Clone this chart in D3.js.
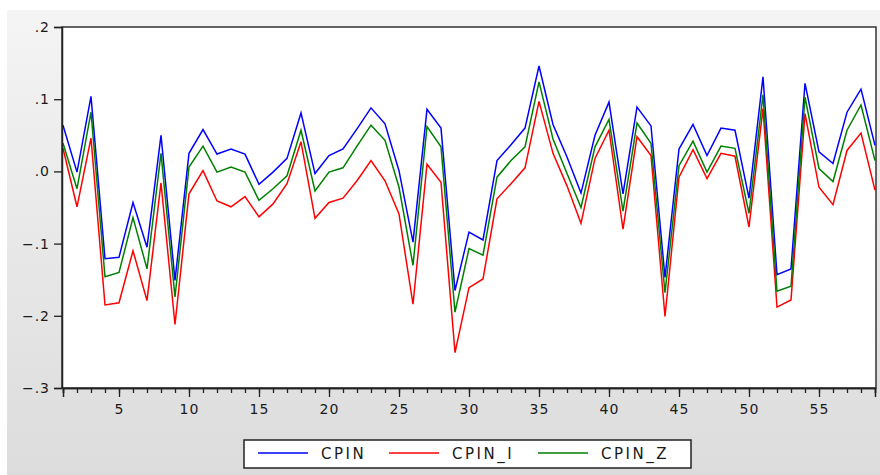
<!DOCTYPE html>
<html>
<head>
<meta charset="utf-8">
<script src="https://cdn.jsdelivr.net/npm/d3@7"></script>
<style>
body { margin: 0; background: #fff; }
text { font-family: "DejaVu Sans", sans-serif; fill: #1a1a1a; }
</style>
</head>
<body>
<div id="chart"></div>
<script>
let obs = d3.range(1, 60)

let cpin = [0.064, -0.001, 0.104, -0.121, -0.119, -0.043, -0.105, 0.050, -0.151, 0.025,
    0.058, 0.024, 0.031, 0.024, -0.018, -0.001, 0.018, 0.081, -0.003, 0.022,
    0.031, 0.059, 0.088, 0.066, 0.001, -0.098, 0.086, 0.060, -0.165, -0.084,
    -0.095, 0.015, 0.037, 0.060, 0.146, 0.065, 0.020, -0.030, 0.050, 0.096,
    -0.031, 0.089, 0.063, -0.147, 0.031, 0.065, 0.022, 0.060, 0.057, -0.037,
    0.131, -0.143, -0.135, 0.122, 0.027, 0.011, 0.082, 0.114, 0.036]

let cpinI = [0.032, -0.049, 0.046, -0.185, -0.182, -0.110, -0.179, -0.016, -0.212, -0.031,
    0.001, -0.041, -0.049, -0.035, -0.063, -0.045, -0.017, 0.041, -0.065, -0.043,
    -0.037, -0.013, 0.015, -0.013, -0.059, -0.184, 0.010, -0.015, -0.251, -0.161,
    -0.149, -0.038, -0.017, 0.005, 0.097, 0.025, -0.020, -0.072, 0.018, 0.057,
    -0.080, 0.048, 0.022, -0.201, -0.008, 0.030, -0.010, 0.025, 0.021, -0.077,
    0.087, -0.188, -0.178, 0.080, -0.022, -0.046, 0.029, 0.053, -0.026]

let cpinZ = [0.039, -0.024, 0.082, -0.146, -0.140, -0.064, -0.135, 0.025, -0.174, 0.006,
    0.035, -0.001, 0.006, -0.001, -0.040, -0.024, -0.006, 0.057, -0.027, -0.001,
    0.005, 0.035, 0.064, 0.043, -0.022, -0.130, 0.062, 0.034, -0.195, -0.107,
    -0.116, -0.008, 0.015, 0.034, 0.124, 0.045, -0.003, -0.050, 0.034, 0.072,
    -0.055, 0.067, 0.039, -0.168, 0.008, 0.042, -0.001, 0.035, 0.032, -0.058,
    0.106, -0.166, -0.159, 0.103, 0.004, -0.014, 0.057, 0.092, 0.015]

let seriesNames = ["CPIN", "CPIN_I", "CPIN_Z"]
let yTicks = [-0.3, -0.2, -0.1, 0.0, 0.1, 0.2]
let xTicks = [5, 10, 15, 20, 25, 30, 35, 40, 45, 50, 55]

let width = 880
let height = 475
let plotLeft = 62, plotRight = 876, plotTop = 27, plotBottom = 388

let colors = ["#0000ff", "#ff0000", "#008000"]

let svg = d3.select("#chart")
            .append("svg")
            .attr("width", width)
            .attr("height", height)

// grey panel behind everything
let grad = svg.append("defs").append("linearGradient")
    .attr("id", "bg")
    .attr("x1", 0).attr("y1", 0).attr("x2", 0).attr("y2", 1)
grad.append("stop").attr("offset", "0%").attr("stop-color", "#f4f4f4")
grad.append("stop").attr("offset", "100%").attr("stop-color", "#dcdcdc")

svg.append("rect")
    .attr("x", 7).attr("y", 10)
    .attr("width", width - 7).attr("height", height - 10)
    .attr("fill", "url(#bg)")

svg.append("rect")
    .attr("x", plotLeft).attr("y", plotTop)
    .attr("width", plotRight - plotLeft).attr("height", plotBottom - plotTop)
    .attr("fill", "#fff")

let xScale = d3.scaleLinear()
    .domain([1, 59])
    .range([plotLeft + 1, plotRight - 1])

let yScale = d3.scaleLinear()
    .domain([-0.3, 0.2])
    .range([plotBottom, plotTop])

let line = d3.line()
    .x(function(d, i) { return xScale(obs[i]) })
    .y(function(d) { return yScale(d) })

let allSeries = [cpin, cpinI, cpinZ]

svg.selectAll(".series")
    .data(allSeries)
    .enter()
    .append("path")
    .attr("class", "series")
    .attr("d", line)
    .attr("fill", "none")
    .attr("stroke", function(d, i) { return colors[i] })
    .attr("stroke-width", 1.5)

// frame
svg.append("rect")
    .attr("x", plotLeft).attr("y", plotTop)
    .attr("width", plotRight - plotLeft).attr("height", plotBottom - plotTop)
    .attr("fill", "none")
    .attr("stroke", "#333")
    .attr("stroke-width", 1.5)

let fmt = function(v) {
    let s = d3.format(".1f")(v)
    return s.replace("0.", ".")
}

let yAxis = d3.axisLeft()
    .scale(yScale)
    .tickValues(yTicks)
    .tickSize(8)
    .tickPadding(4)
    .tickFormat(fmt)

svg.append("g")
    .attr("class", "axis")
    .attr("transform", "translate(" + plotLeft + ",0)")
    .call(yAxis)

// minor ticks on every observation
let xMinor = d3.axisBottom()
    .scale(xScale)
    .tickValues(obs)
    .tickSize(5)
    .tickFormat("")

svg.append("g")
    .attr("class", "axis")
    .attr("transform", "translate(0," + plotBottom + ")")
    .call(xMinor)

let xAxis = d3.axisBottom()
    .scale(xScale)
    .tickValues(xTicks)
    .tickSize(9)
    .tickPadding(7)
    .tickFormat(d3.format("d"))

svg.append("g")
    .attr("class", "axis")
    .attr("transform", "translate(0," + plotBottom + ")")
    .call(xAxis)

svg.selectAll(".axis .domain").attr("stroke", "#222").attr("stroke-width", 1.5)
svg.selectAll(".axis line").attr("stroke", "#222").attr("stroke-width", 1.3)
svg.selectAll(".axis text")
    .attr("fill", "#1a1a1a")
    .style("font-size", "14px")
    .style("letter-spacing", "1px")

// legend
svg.append("rect")
    .attr("x", 244).attr("y", 440)
    .attr("width", 447).attr("height", 28)
    .attr("fill", "#fff")
    .attr("stroke", "#222")
    .attr("stroke-width", 1.5)

let legendX = [258, 389, 538]

seriesNames.forEach(function(name, i) {
    let g = svg.append("g").attr("transform", "translate(" + legendX[i] + ",453)")
    g.append("line")
        .attr("x1", 0).attr("x2", 50)
        .attr("y1", 0).attr("y2", 0)
        .attr("stroke", colors[i])
        .attr("stroke-width", 1.3)
    g.append("text")
        .attr("x", 63).attr("y", 6)
        .style("font-size", "15px")
        .style("letter-spacing", "2.5px")
        .text(name)
})
</script>
</body>
</html>
